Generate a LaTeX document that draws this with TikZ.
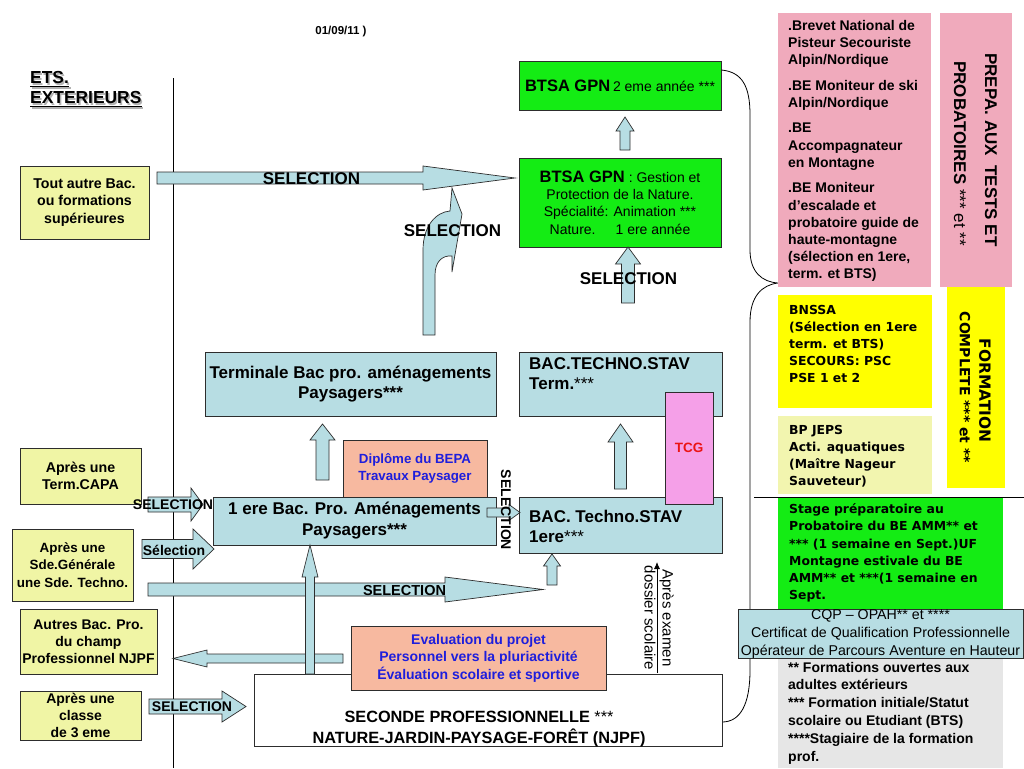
\documentclass[tikz,border=0pt]{standalone}
\usepackage{fontspec}
\setmainfont{Liberation Sans}
\newfontfamily\vfont{DejaVu Sans}
\usetikzlibrary{arrows.meta}
\newcommand\myfs[2]{\fontsize{#1}{#2}\selectfont}
\definecolor{ylw}{RGB}{240,245,165}
\definecolor{lblue}{RGB}{183,221,227}
\definecolor{bgreen}{RGB}{20,236,20}
\definecolor{salmon}{RGB}{247,185,160}
\definecolor{pinkA}{RGB}{240,170,188}
\definecolor{tcgpink}{RGB}{245,160,232}
\definecolor{yelB}{RGB}{255,255,0}
\definecolor{paleY}{RGB}{242,245,175}
\definecolor{grayB}{RGB}{230,230,230}
\definecolor{txtblue}{RGB}{30,30,220}
\definecolor{bord}{RGB}{45,45,45}
\definecolor{tcgred}{RGB}{235,20,20}
\newcommand\blkH[6]{\filldraw[blk] (#1,#4-#5) -- (#2,#4-#5) -- (#2,#4-#6) -- (#3,#4) -- (#2,#4+#6) -- (#2,#4+#5) -- (#1,#4+#5) -- cycle;}
\newcommand\blkV[6]{\filldraw[blk] (#1-#5,#2) -- (#1-#5,#3) -- (#1-#6,#3) -- (#1,#4) -- (#1+#6,#3) -- (#1+#5,#3) -- (#1+#5,#2) -- cycle;}
\tikzset{
  box/.style={draw=bord, line width=0.8pt, inner sep=0pt, align=center},
  lbox/.style={box, fill=ylw, font=\bfseries\myfs{14.2}{17.3}},
  bbox/.style={box, fill=lblue},
  rbox/.style={inner sep=0pt},
  blk/.style={fill=lblue, draw=bord, line width=0.7pt},
  sel/.style={inner sep=0pt, font=\bfseries\myfs{14}{16}},
  bigsel/.style={inner sep=0pt, font=\bfseries\myfs{17}{20}},
  ltxt/.style={inner sep=0pt, align=left, anchor=west},
}
\begin{document}
\begin{tikzpicture}[x=1pt,y=-1pt]
\useasboundingbox (0,0) rectangle (1024,768);
\fill[white] (0,0) rectangle (1024,768);

% separator line and brace
\coordinate (vlT) at (173,78);
\coordinate (vlB) at (173,768);
\draw[line width=0.8pt] (vlT) -- (vlB);

% title texts
\node[inner sep=0pt, font=\bfseries\myfs{11.5}{14}] (date) at (341,32) {01/09/11 )};
\node[inner sep=0pt, anchor=west, text=gray!60, font=\bfseries\myfs{17.4}{20}] (etsS) at (31.5,79.5) {ETS.};
\node[inner sep=0pt, anchor=west, text=gray!60, font=\bfseries\myfs{17.4}{20}] (extS) at (31.5,99.5) {EXTERIEURS};
\draw[gray!60, line width=1.3pt] ([yshift=-2.5pt]etsS.base west) -- ([yshift=-2.5pt]etsS.base east);
\draw[gray!60, line width=1.3pt] ([yshift=-2.5pt]extS.base west) -- ([yshift=-2.5pt]extS.base east);
\node[inner sep=0pt, anchor=west, font=\bfseries\myfs{17.4}{20}] (ets) at (30,78) {ETS.};
\node[inner sep=0pt, anchor=west, font=\bfseries\myfs{17.4}{20}] (ext) at (30,98) {EXTERIEURS};
\draw[line width=1.3pt] ([yshift=-2.5pt]ets.base west) -- ([yshift=-2.5pt]ets.base east);
\draw[line width=1.3pt] ([yshift=-2.5pt]ext.base west) -- ([yshift=-2.5pt]ext.base east);

% left boxes
\node[lbox, minimum width=129pt, minimum height=73pt] (tout) at (84.5,202.5) {Tout autre Bac.\\ou formations\\supérieures};
\node[lbox, minimum width=121pt, minimum height=56pt] (capa) at (80.5,476) {Après une\\Term.CAPA};
\node[lbox, minimum width=121pt, minimum height=72pt, font=\bfseries\myfs{13.4}{17.3}] (sde) at (72.5,565) {Après une\\Sde.Générale\\une Sde. Techno.};
\node[lbox, minimum width=137pt, minimum height=65pt, font=\bfseries\myfs{14}{17}] (autres) at (88.5,641.5) {Autres Bac. Pro.\\du champ\\Professionnel NJPF};
\node[lbox, minimum width=121pt, minimum height=49pt, font=\bfseries\myfs{14}{17}] (trois) at (80.5,715.5) {Après une\\classe\\de 3 eme};

% green BTSA boxes
\node[box, fill=bgreen, minimum width=202pt, minimum height=49pt] (btsa2) at (620,85.5) {{\bfseries\myfs{16.5}{20}BTSA GPN} {\myfs{14}{17}2 eme année ***}};
\node[box, fill=bgreen, minimum width=202pt, minimum height=89pt, font=\myfs{14}{17.3}] (btsa1) at (620,202.5) {{\bfseries\myfs{16.5}{17.3}BTSA GPN} : Gestion et\\Protection de la Nature.\\Spécialité: Animation ***\\Nature.\hspace{20pt}1 ere année};

% brace
\draw[line width=0.8pt] (btsa2.east |- 0,70) .. controls (742,72) and (750,86) .. (750,115) -- (750,250) .. controls (750,272) and (762,282) .. (778,283) .. controls (762,285) and (750,296) .. (750,322) -- (750,670) .. controls (750,705) and (740,722) .. (722,722);

% middle column boxes
\node[bbox, minimum width=291pt, minimum height=64pt, font=\bfseries\myfs{17}{20.4}] (term) at (350.5,384) {Terminale Bac pro. aménagements\\Paysagers***};
\node[box, fill=salmon, minimum width=144pt, minimum height=57pt, text=txtblue, font=\bfseries\myfs{13.3}{17}] (bepa) at (415,468.5) {Diplôme du BEPA\\Travaux Paysager};
\node[bbox, minimum width=283pt, minimum height=48pt, font=\bfseries\myfs{17}{21}] (prem) at (354.5,521) {1 ere Bac. Pro. Aménagements\\Paysagers***};

\node[bbox, minimum width=203pt, minimum height=64pt] (stavT) at (620.5,384) {};
\node[ltxt, font=\myfs{17}{20}] (stavTt) at (529,374) {\textbf{BAC.TECHNO.STAV}\\\textbf{Term.}***};
\node[bbox, minimum width=203pt, minimum height=56pt] (stav1) at (620.5,525) {};
\node[ltxt, font=\myfs{17}{20}] (stav1t) at (529,526) {\textbf{BAC. Techno.STAV}\\\textbf{1ere}***};
\node[box, fill=tcgpink, minimum width=48pt, minimum height=112pt, text=tcgred, font=\bfseries\myfs{13.5}{16}] (tcg) at (689,448) {TCG};

\node[box, fill=white, minimum width=468pt, minimum height=72pt] (seconde) at (488,710) {};
\node[inner sep=0pt, align=center, font=\bfseries\myfs{16.3}{21}] (secondet) at (479,728.5) {SECONDE PROFESSIONNELLE {\mdseries ***}\\NATURE-JARDIN-PAYSAGE-FORÊT (NJPF)};
\node[box, fill=salmon, minimum width=255pt, minimum height=64pt, text=txtblue, font=\bfseries\myfs{14}{17.5}] (eval) at (478.5,658) {Evaluation du projet\\Personnel vers la pluriactivité\\Évaluation scolaire et sportive};

% right column
\node[rbox, fill=pinkA, minimum width=153pt, minimum height=274pt] (pink1) at (854.5,150) {};
\node[ltxt, font=\bfseries\myfs{14}{17.2}] (pink1t) at (788,151) {.Brevet National de\\Pisteur Secouriste\\Alpin/Nordique\\[8.5pt].BE Moniteur de ski\\Alpin/Nordique\\[8pt].BE\\Accompagnateur\\en Montagne\\[8.5pt].BE Moniteur\\d’escalade et\\probatoire guide de\\haute-montagne\\(sélection en 1ere,\\term. et BTS)};
\node[rbox, fill=pinkA, minimum width=72pt, minimum height=274pt] (prepa) at (976,150) {};
\node[inner sep=0pt, rotate=-90, font=\bfseries\myfs{17}{20}] (prepaA) at (991,150) {PREPA. AUX\ \ TESTS ET};
\node[inner sep=0pt, rotate=-90, font=\myfs{17}{20}] (prepaB) at (960,153.5) {\textbf{PROBATOIRES} *** et **};

\node[rbox, fill=yelB, minimum width=154pt, minimum height=113pt] (bnssa) at (855,351.5) {};
\node[ltxt, font=\vfont\bfseries\myfs{12.4}{17}] (bnssat) at (789,344) {BNSSA\\(Sélection en 1ere\\term. et BTS)\\SECOURS: PSC\\PSE 1 et 2};
\node[rbox, fill=paleY, minimum width=154pt, minimum height=78pt] (bpjeps) at (855,455) {};
\node[ltxt, font=\vfont\bfseries\myfs{12.4}{17}] (bpjepst) at (789,456.5) {BP JEPS\\Acti. aquatiques\\(Maître Nageur\\Sauveteur)};
\node[rbox, fill=yelB, minimum width=58pt, minimum height=201pt] (formation) at (976,387.5) {};
\node[inner sep=0pt, rotate=-90, font=\vfont\bfseries\myfs{15.4}{18}] (formA) at (985,390.5) {FORMATION};
\node[inner sep=0pt, rotate=-90, font=\vfont\bfseries\myfs{14}{17}] (formB) at (965,387.5) {COMPLETE *** et **};

\node[rbox, fill=bgreen, minimum width=225pt, minimum height=113pt] (stage) at (890.5,553.5) {};
\node[ltxt, font=\vfont\bfseries\myfs{12.4}{17.2}] (staget) at (789,553) {Stage préparatoire au\\Probatoire du BE AMM** et\\*** (1 semaine en Sept.)UF\\Montagne estivale du BE\\AMM** et ***(1 semaine en\\Sept.};
\node[rbox, fill=grayB, minimum width=225pt, minimum height=110pt] (grayb) at (890.5,713) {};
\node[ltxt, font=\bfseries\myfs{14}{17.8}] (grayt) at (788,713) {** Formations ouvertes aux\\adultes extérieurs\\*** Formation initiale/Statut\\scolaire ou Etudiant (BTS)\\****Stagiaire de la formation\\prof.};
\node[box, fill=lblue, line width=0.7pt, minimum width=285pt, minimum height=48pt, font=\myfs{14.2}{18}] (cqp) at (880.5,634) {CQP – OPAH** et ****\\Certificat de Qualification Professionnelle\\Opérateur de Parcours Aventure en Hauteur};
\coordinate (hlA) at (754,497);
\coordinate (hlB) at (1024,497);
\draw[line width=0.8pt] (hlA) -- (hlB);

% block arrows
\blkH{157}{423}{515}{178}{6}{12}
\filldraw[blk] (423,335) -- (423,250) .. controls (423,226) and (436,212) .. (450,211) -- (452,188) -- (462,214) -- (452,272) -- (452,256) .. controls (442,255) and (435,262) .. (435,275) -- (435,335) -- cycle;
\blkV{625}{150}{131}{117}{5}{9}
\blkV{628}{303}{264}{247}{6.5}{12.5}
\blkV{322.5}{480}{440}{424}{6.5}{12.5}
\blkV{620.5}{489}{442}{424}{6}{12.5}
\blkH{487}{509}{520}{512.5}{4.5}{8}
\blkV{552}{585}{566}{554}{5}{8.5}
\blkH{148}{445}{543}{589.5}{6.5}{12.5}
\blkH{343}{207}{173}{658.5}{4.5}{8.5}
\blkV{310}{674}{577}{545}{4.5}{8}
\blkH{148}{191}{203}{504.5}{7.5}{16.5}
\blkH{142}{193}{214}{549}{9.5}{20}
\blkH{149}{222}{246}{706.5}{7.5}{15.5}

% labels
\node[bigsel] (selA) at (311.5,179) {SELECTION};
\node[bigsel] (selB) at (452.5,231) {SELECTION};
\node[bigsel] (selC) at (628.5,279) {SELECTION};
\node[sel, font=\bfseries\myfs{14.5}{16}] (selD) at (404.5,590) {SELECTION};
\node[sel] (selE) at (173,505) {SELECTION};
\node[sel] (selF) at (174,550) {Sélection};
\node[sel] (selG) at (192,707) {SELECTION};
\node[sel, rotate=-90] (selH) at (506,510) {SELECTION};

% apres examen
\node[inner sep=0pt, rotate=-90, align=center, font=\myfs{15}{18}] (apres) at (659,618) {Après examen\\dossier scolaire};
\coordinate (apB) at (657,673);
\coordinate (apT) at (657,562);
\draw[line width=0.8pt, -{Latex[length=7pt,width=6pt]}] (apB) -- (apT);
\end{tikzpicture}
\end{document}
